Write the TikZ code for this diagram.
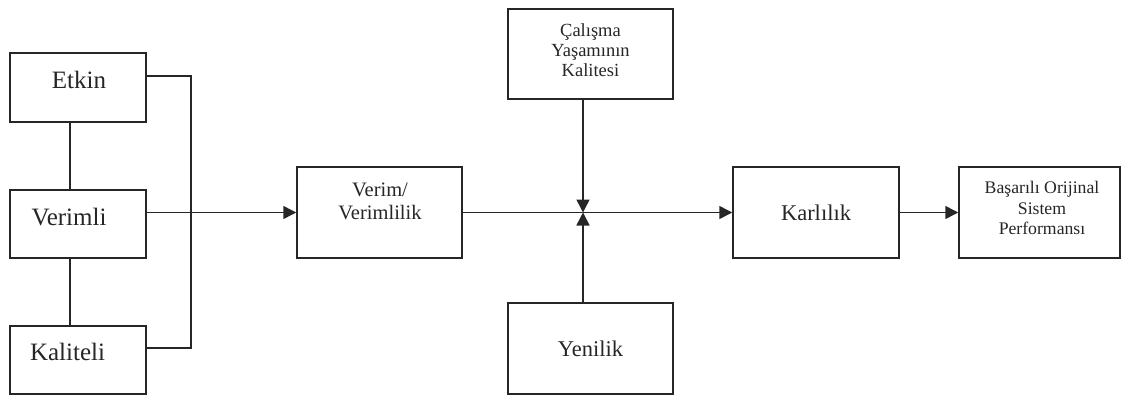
\documentclass[tikz,border=0pt]{standalone}
\usepackage{fontspec}
\setmainfont{Liberation Serif}
\usetikzlibrary{arrows.meta,calc}
\begin{document}
\begin{tikzpicture}[x=1pt,y=1pt,
  box/.style={draw=black!85,line width=1.5pt,fill=white,rectangle,inner sep=0pt},
  conn/.style={draw=black!85,line width=1.5pt},
  arr/.style={conn,-{Triangle[length=13pt,width=13pt]}},
  lab/.style 2 args={font=\fontsize{#1}{#2}\selectfont,align=center,inner sep=0pt,text=black!85}
]
\useasboundingbox (0,0) rectangle (1121,-396);
% boxes
\node[box,minimum width=136pt,minimum height=69pt,label={[lab={25pt}{29pt},shift={(1,7.5)}]center:Etkin}] (etkin) at (78,-87.5) {};
\node[box,minimum width=136pt,minimum height=68pt,label={[lab={25pt}{29pt},shift={(-9,7)}]center:Verimli}] (verimli) at (78,-224) {};
\node[box,minimum width=136pt,minimum height=68pt,label={[lab={25pt}{29pt},shift={(-10.5,8)}]center:Kaliteli}] (kaliteli) at (78,-360) {};
\node[box,minimum width=165pt,minimum height=91pt,label={[lab={20.5pt}{23pt},shift={(0.5,11)}]center:{Verim/\\Verimlilik}}] (verim) at (379.5,-212.5) {};
\node[box,minimum width=165pt,minimum height=90pt,label={[lab={18.5pt}{20pt},shift={(0,4)}]center:{Çalışma\\Yaşamının\\Kalitesi}}] (calisma) at (590.5,-54) {};
\node[box,minimum width=165pt,minimum height=91pt,label={[lab={22.5pt}{26pt}]center:Yenilik}] (yenilik) at (590.5,-348.5) {};
\node[box,minimum width=166pt,minimum height=91pt,label={[lab={22.5pt}{26pt}]center:Karlılık}] (karlilik) at (816,-212.5) {};
\node[box,minimum width=161pt,minimum height=91pt,label={[lab={17.7pt}{20.5pt},shift={(2.5,4.5)}]center:{Başarılı Orijinal\\Sistem\\Performansı}}] (basarili) at (1039.5,-212.5) {};
% helper coordinates
\coordinate (v) at (70,0);
\coordinate (b1) at (191,-76);
\coordinate (b2) at (191,-348);
\coordinate (j) at (583,-212.5);
% left cluster
\draw[conn] (etkin.south -| v) -- (verimli.north -| v);
\draw[conn] (verimli.south -| v) -- (kaliteli.north -| v);
\draw[conn] (etkin.east |- b1) -- (b1) -- (b2) -- (kaliteli.east |- b2);
\draw[arr] (verimli.east |- verim.west) -- (verim.west);
% middle
\draw[conn] (verim.east) -- (j);
\draw[arr] (j) -- (karlilik.west);
\draw[arr] (calisma.south -| j) -- (j);
\draw[arr] (yenilik.north -| j) -- (j);
\draw[arr] (karlilik.east) -- (basarili.west);
\end{tikzpicture}
\end{document}
